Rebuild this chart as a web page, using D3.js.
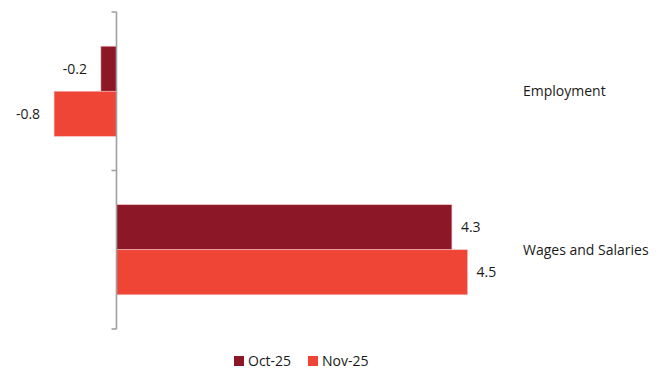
<!DOCTYPE html>
<html>
<head>
<meta charset="utf-8">
<script src="https://cdn.jsdelivr.net/npm/d3@7"></script>
<style>
  body { margin: 0; background: #fff; }
  text { font-family: "Open Sans", sans-serif; fill: #1a1a1a; }
</style>
</head>
<body>
<div id="chart"></div>
<script>
// chart data
let categories = ["Employment", "Wages and Salaries"];
let seriesNames = ["Oct-25", "Nov-25"];
let oct25 = [-0.2, 4.3];
let nov25 = [-0.8, 4.5];
let colors = ["#8c1727", "#ef4536"];

let w = 666;
let h = 371;
let m = {top: 12, left: 116.5, bottom: 42};

let svg = d3.select("#chart")
  .append("svg")
  .attr("width", w)
  .attr("height", h);

let x = d3.scaleLinear()
  .domain([0, 1])
  .range([m.left, m.left + 78]);

let y = d3.scaleBand()
  .domain(categories)
  .range([m.top, h - m.bottom])
  .paddingInner(0)
  .paddingOuter(0);

let inner = d3.scaleBand()
  .domain(seriesNames)
  .range([0, y.bandwidth()])
  .paddingOuter(0.76);

let rows = categories.map((c, i) => {
  return {cat: c, vals: [oct25[i], nov25[i]]};
});

let g = svg.selectAll("g.cat")
  .data(rows)
  .enter()
  .append("g")
  .attr("class", "cat")
  .attr("transform", (d) => "translate(0," + y(d.cat) + ")");

g.selectAll("rect")
  .data((d) => d.vals.map((v, j) => ({v: v, s: seriesNames[j], j: j})))
  .enter()
  .append("rect")
  .attr("x", (d) => Math.min(x(0), x(d.v)))
  .attr("y", (d) => inner(d.s))
  .attr("width", (d) => Math.abs(x(d.v) - x(0)))
  .attr("height", inner.bandwidth())
  .attr("fill", (d) => colors[d.j])
  .attr("stroke", "#f2b8b8")
  .attr("stroke-width", 0.6);

// value labels
g.selectAll("text.val")
  .data((d) => d.vals.map((v, j) => ({v: v, s: seriesNames[j], j: j})))
  .enter()
  .append("text")
  .attr("class", "val")
  .attr("x", (d) => d.v < 0 ? x(d.v) - 14 : x(d.v) + 9)
  .attr("y", (d) => inner(d.s) + inner.bandwidth() / 2)
  .attr("dy", "0.35em")
  .attr("text-anchor", (d) => d.v < 0 ? "end" : "start")
  .attr("font-size", "14px")
  .text((d) => d.v.toFixed(1));

// category labels on the right
g.append("text")
  .attr("x", 523)
  .attr("y", y.bandwidth() / 2)
  .attr("dy", "0.35em")
  .attr("font-size", "14px")
  .text((d) => d.cat);

// axis line with ticks at category boundaries
let axis = svg.append("g").attr("stroke", "#a0a0a0").attr("stroke-width", 1.6);
axis.append("line")
  .attr("x1", x(0)).attr("x2", x(0))
  .attr("y1", y.range()[0]).attr("y2", y.range()[1]);
let bounds = categories.map((c) => y(c)).concat([y.range()[1]]);
axis.selectAll("line.tick")
  .data(bounds)
  .enter()
  .append("line")
  .attr("class", "tick")
  .attr("x1", x(0) - 5).attr("x2", x(0))
  .attr("y1", (d) => d).attr("y2", (d) => d);

// legend
let legend = svg.append("g").attr("transform", "translate(234,361)");
let items = legend.selectAll("g")
  .data(seriesNames)
  .enter()
  .append("g")
  .attr("transform", (d, i) => "translate(" + (i * 74) + ",0)");
items.append("rect")
  .attr("x", 0).attr("y", -5)
  .attr("width", 10).attr("height", 10)
  .attr("fill", (d, i) => colors[i]);
items.append("text")
  .attr("x", 14)
  .attr("dy", "0.35em")
  .attr("font-size", "14px")
  .text((d) => d);
</script>
</body>
</html>
